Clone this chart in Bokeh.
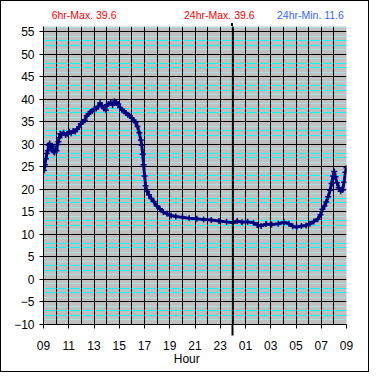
from bokeh.plotting import figure
from bokeh.layouts import column
from bokeh.models import FixedTicker, Grid, Span, Range1d, Div
from bokeh.embed import file_html
from bokeh.resources import INLINE

# hours since 09:00
hours = [0.00, 0.04, 0.11, 0.19, 0.27, 0.34, 0.42, 0.49, 0.57, 0.65, 0.72, 0.80, 0.87, 0.95,
         1.03, 1.10, 1.18, 1.25, 1.33, 1.44, 1.59, 1.75, 1.90, 2.05, 2.20, 2.35, 2.51, 2.66,
         2.81, 2.96, 3.11, 3.27, 3.42, 3.57, 3.72, 3.87, 4.02, 4.18, 4.33, 4.48, 4.63, 4.78,
         4.94, 5.01, 5.16, 5.32, 5.47, 5.62, 5.77, 5.92, 6.07, 6.23, 6.38, 6.53, 6.68, 6.83,
         6.99, 7.14, 7.29, 7.44, 7.59, 7.71, 7.78, 7.86, 7.93, 8.01, 8.09, 8.20, 8.35, 8.54,
         8.73, 8.96, 9.22, 9.49, 9.79, 10.10, 10.48, 11.01, 11.54, 12.15, 12.68, 13.29, 13.90,
         14.50, 15.03, 15.34, 15.72, 16.17, 16.63, 16.93, 17.24, 17.62, 18.07, 18.60, 19.06,
         19.44, 19.74, 20.05, 20.43, 20.80, 21.11, 21.41, 21.72, 21.94, 22.10, 22.25, 22.40,
         22.55, 22.70, 22.82, 22.93, 23.03, 23.12, 23.24, 23.39, 23.54, 23.69, 23.80, 23.92, 24.00]
temps = [25.0, 24.2, 25.5, 26.8, 28.0, 28.6, 29.8, 30.2, 29.6, 28.8, 29.6, 28.4, 28.2, 29.0,
         28.6, 30.0, 30.6, 31.5, 32.4, 32.2, 32.6, 32.1, 32.4, 32.8, 32.5, 33.0, 32.9, 33.4,
         33.9, 34.6, 35.0, 35.4, 36.4, 36.8, 37.2, 37.5, 37.8, 38.0, 38.4, 39.2, 38.6, 38.0,
         37.6, 38.8, 39.0, 39.3, 38.7, 39.6, 39.2, 39.0, 38.2, 37.6, 37.4, 37.0, 36.6, 36.4,
         35.9, 35.4, 34.9, 34.0, 32.6, 31.0, 29.8, 27.8, 25.5, 23.0, 20.8, 19.6, 18.8, 18.0,
         17.3, 16.4, 15.7, 15.0, 14.6, 14.2, 14.0, 13.8, 13.6, 13.5, 13.3, 13.2, 13.0,
         12.8, 12.6, 13.0, 12.7, 12.8, 12.6, 12.1, 11.9, 12.3, 12.2, 12.4, 12.7,
         12.4, 11.8, 11.6, 11.9, 12.0, 12.4, 12.9, 13.4, 14.4, 15.6, 16.3, 17.2,
         18.4, 19.8, 21.3, 23.0, 24.0, 22.8, 21.5, 20.4, 19.6, 19.9, 21.6, 23.8, 24.8]

hour_ticks = [0, 2, 4, 6, 8, 10, 12, 14, 16, 18, 20, 22, 24]
hour_labels = ["09", "11", "13", "15", "17", "19", "21", "23", "01", "03", "05", "07", "09"]
temp_ticks = [-10, -5, 0, 5, 10, 15, 20, 25, 30, 35, 40, 45, 50, 55]
titles = ["6hr-Max. 39.6", "24hr-Max. 39.6", "24hr-Min. 11.6"]
title_colors = ["#ff0000", "#ff0000", "#3366ff"]
x_label = "Hour"
midnight = 15

FONT = "Liberation Sans"
W = 367
TOP_H = 25
FIG_H = 326
BOT_H = 19
ML, MR, MB = 42, 22, 24
frame_w = W - ML - MR

p = figure(width=W, height=FIG_H, x_range=Range1d(0, 24), y_range=Range1d(-10, 56.2),
           output_backend="svg", toolbar_location=None, title=None,
           min_border_left=ML, min_border_right=MR, min_border_top=0, min_border_bottom=MB,
           background_fill_color="#c0c0c0", border_fill_color="white", margin=(0, 0, 0, 0))
p.outline_line_color = None
p.xgrid.visible = False
p.ygrid.visible = False

light_minor = [v for v in range(-10, 57) if v % 5 in (1, 4)]
bright_minor = [v for v in range(-10, 57) if v % 5 in (2, 3)]
p.add_layout(Grid(dimension=1, ticker=FixedTicker(ticks=light_minor),
                  grid_line_color="#a6e4e4", grid_line_width=1))
p.add_layout(Grid(dimension=1, ticker=FixedTicker(ticks=bright_minor),
                  grid_line_color="#00ffff", grid_line_width=1))
p.add_layout(Grid(dimension=1, ticker=FixedTicker(ticks=temp_ticks),
                  grid_line_color="black", grid_line_width=1))
p.add_layout(Grid(dimension=0, ticker=FixedTicker(ticks=list(range(0, 25))),
                  grid_line_color="black", grid_line_width=1))

# the midnight marker pokes below the axis: drawn as the x axis' only minor tick
p.xaxis.ticker = FixedTicker(ticks=hour_ticks, minor_ticks=[midnight])
p.xaxis.major_label_overrides = {t: l for t, l in zip(hour_ticks, hour_labels)}
p.yaxis.ticker = FixedTicker(ticks=temp_ticks)
for ax in (p.xaxis, p.yaxis):
    ax.axis_line_color = "black"
    ax.major_tick_line_color = "black"
    ax.major_tick_in = 0
    ax.major_tick_out = 4
    ax.minor_tick_in = 0
    ax.major_label_text_font = FONT
    ax.major_label_text_font_size = "12px"
    ax.major_label_text_color = "black"
p.yaxis.minor_tick_out = 0
p.xaxis.minor_tick_out = 11
p.xaxis.minor_tick_line_width = 2
p.xaxis.minor_tick_line_color = "black"
p.xaxis.major_label_standoff = 5
p.yaxis.major_label_standoff = 5

p.line(hours, temps, line_color="#000080", line_width=3)
p.scatter(hours, temps, marker="cross", size=6, line_color="#000080", line_width=1.5)

p.add_layout(Span(location=midnight, dimension="height", line_color="black", line_width=2))

title_left = [50.7, 183.0, 276.0]
spans = "".join(
    f'<span style="position:absolute;left:{x}px;top:7.5px;color:{c};white-space:nowrap;">{t}</span>'
    for t, x, c in zip(titles, title_left, title_colors))
# small stub of the midnight marker above the plot frame
stub_left = ML + frame_w * midnight / 24.0 - 1
stub = (f'<div style="position:absolute;left:{stub_left:.1f}px;top:22px;width:2px;'
        f'height:3px;background:black;"></div>')
top_div = Div(text=f'<div style="position:relative;width:{W}px;height:{TOP_H}px;'
                   f'font-family:\'{FONT}\';font-size:10.5px;line-height:normal;">{spans}{stub}</div>',
              width=W, height=TOP_H, margin=(0, 0, 0, 0))

bot_div = Div(text=f'<div style="position:relative;width:{W}px;height:{BOT_H}px;'
                   f'font-family:\'{FONT}\';font-size:12px;line-height:normal;">'
                   f'<span style="position:absolute;left:135.8px;width:100px;top:0px;'
                   f'text-align:center;color:black;">{x_label}</span></div>',
              width=W, height=BOT_H, margin=(0, 0, 0, 0))

layout = column(top_div, p, bot_div, spacing=0)
layout.styles = {"border": "1px solid black"}

open("out.html", "w").write(file_html(layout, INLINE))
